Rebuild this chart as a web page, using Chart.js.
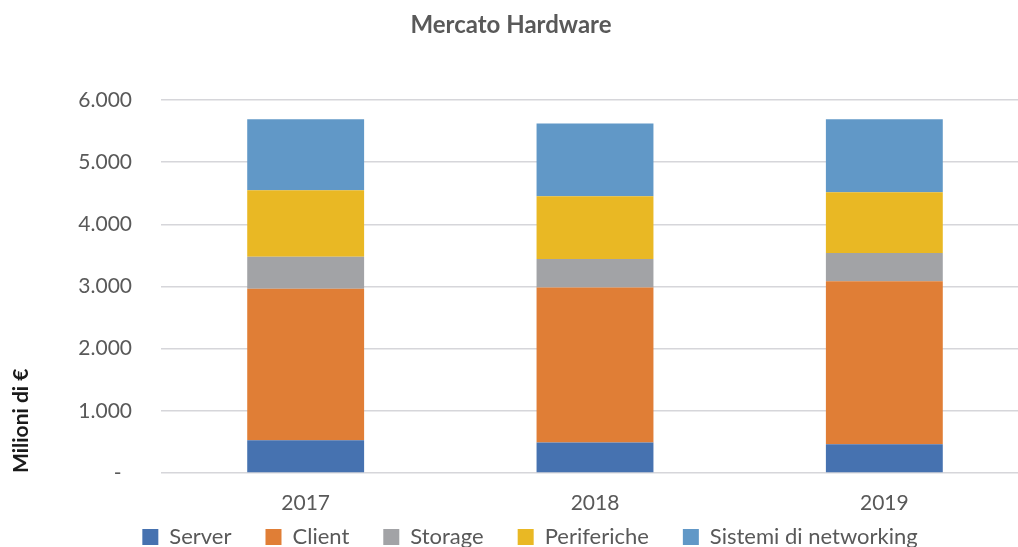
<!DOCTYPE html>
<html>
<head>
<meta charset="utf-8">
<script src="https://cdn.jsdelivr.net/npm/chart.js@4/dist/chart.umd.min.js"></script>
<style>
  html, body { margin: 0; padding: 0; background: #ffffff; overflow: hidden; }
  #wrap { width: 1018px; height: 547px; overflow: hidden; position: relative; }
  canvas { display: block; }
</style>
</head>
<body>
<div id="wrap"><canvas id="c" width="1030" height="558"></canvas></div>
<script>
// ---- Data (Milioni di €) ----
const categories = ['2017', '2018', '2019'];
const seriesNames = ['Server', 'Client', 'Storage', 'Periferiche', 'Sistemi di networking'];
const server      = [527, 489, 462];
const client      = [2436, 2495, 2624];
const storage     = [516, 457, 451];
const periferiche = [1069, 1011, 979];
const networking  = [1141, 1171, 1173];
const yTickValues = [0, 1000, 2000, 3000, 4000, 5000, 6000];
const chartTitle = 'Mercato Hardware';
const yAxisTitle = 'Milioni di €';

const seriesValues = [server, client, storage, periferiche, networking];
const seriesColors = ['#4672B0', '#E07E36', '#A2A3A6', '#E9B824', '#6198C7'];

function fmt(v) {
  if (v === 0) return '-\u2002';
  return String(v).replace(/\B(?=(\d{3})+(?!\d))/g, '.');
}

// small layout nudges for the title and legend boxes
const nudgePlugin = {
  id: 'nudge',
  afterLayout(chart) {
    const lg = chart.legend;
    if (lg) { lg.left += 15.5; lg.right += 15.5; }
    const tt = chart.titleBlock;
    if (tt) { tt.left -= 3.5; tt.right -= 3.5; }
  }
};

function draw() {
  const ctx = document.getElementById('c').getContext('2d');
  new Chart(ctx, {
    type: 'bar',
    data: {
      labels: categories,
      datasets: seriesNames.map((name, i) => ({
        label: name,
        data: seriesValues[i],
        backgroundColor: seriesColors[i],
        borderWidth: 0,
        categoryPercentage: 1.0,
        barPercentage: 0.404
      }))
    },
    plugins: [nudgePlugin],
    options: {
      responsive: false,
      animation: false,
      devicePixelRatio: 1,
      layout: { padding: { left: 0, right: 1, top: 0, bottom: 0 } },
      plugins: {
        title: {
          display: true,
          text: chartTitle,
          color: '#595959',
          font: { family: 'Lato', size: 24, weight: 'bold' },
          padding: { top: 11, bottom: 60.2 }
        },
        legend: {
          position: 'bottom',
          align: 'center',
          labels: {
            color: '#595959',
            font: { family: 'Lato', size: 22 },
            boxWidth: 16,
            boxHeight: 16,
            padding: 34
          }
        },
        tooltip: { enabled: false }
      },
      scales: {
        x: {
          stacked: true,
          grid: { display: false, drawTicks: false },
          border: { display: false },
          ticks: {
            color: '#595959',
            font: { family: 'Lato', size: 21 },
            padding: 18
          },
          afterFit: (s) => {
            s.height = 19;
            s._computeLabelArea = function () { return undefined; };
          }
        },
        y: {
          stacked: true,
          min: 0,
          max: 6000,
          afterBuildTicks: (s) => { s.ticks = yTickValues.map(v => ({ value: v })); },
          grid: { color: '#D6D6DA', lineWidth: 1.6, drawTicks: false },
          border: { display: false },
          ticks: {
            color: '#595959',
            font: { family: 'Lato', size: 21 },
            padding: 29,
            callback: (v) => fmt(v)
          },
          title: {
            display: true,
            text: yAxisTitle,
            align: 'start',
            color: '#1a1a1a',
            font: { family: 'Lato', size: 21, weight: 'bold' },
            padding: { top: 9, bottom: 0 }
          },
          afterFit: (s) => { s.width = 161; }
        }
      }
    }
  });
}

const fontLoads = [document.fonts.load('21px Lato'), document.fonts.load('bold 21px Lato')];
Promise.race([Promise.all(fontLoads), new Promise(r => setTimeout(r, 800))]).then(draw, draw);
</script>
</body>
</html>
